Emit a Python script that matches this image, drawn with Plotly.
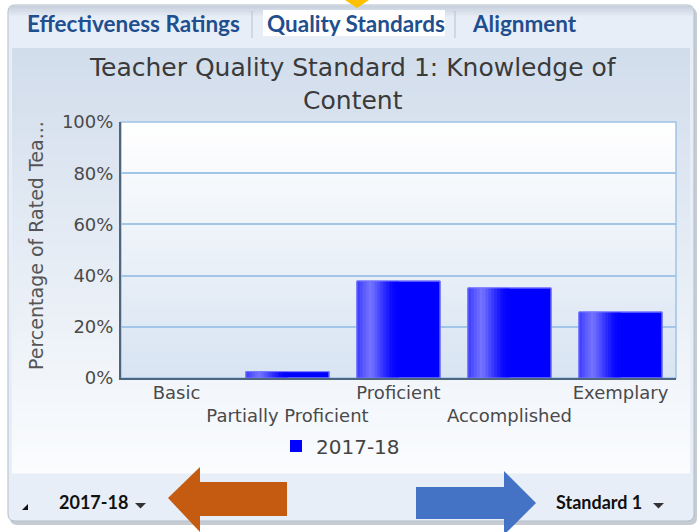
import plotly.graph_objects as go

# ---------------- data ----------------
categories = ["Basic", "Partially Proficient", "Proficient", "Accomplished", "Exemplary"]
values = [0.0, 2.5, 37.9, 35.2, 25.8]
series_name = "2017-18"
y_ticks = [0, 20, 40, 60, 80, 100]
y_tick_labels = ["0%", "20%", "40%", "60%", "80%", "100%"]
title_text = "Teacher Quality Standard 1: Knowledge of<br>Content"
y_title = "Percentage of Rated Tea..."
tabs = ["Effectiveness Ratings", "Quality Standards", "Alignment"]
year_selector = "2017-18"
standard_selector = "Standard 1"

# ---------------- geometry helpers ----------------
W, H = 700, 532
L, R, T, B = 121, 676, 122, 378


def px(x):
    return (x - L) / (R - L)


def py(y):
    return (B - y) / (B - T)


def hex2rgb(h):
    h = h.lstrip("#")
    return tuple(int(h[i:i + 2], 16) for i in (0, 2, 4))


def mix(c1, c2, t):
    a, b = hex2rgb(c1), hex2rgb(c2)
    return "rgb(%d,%d,%d)" % tuple(round(a[i] + (b[i] - a[i]) * t) for i in range(3))


shapes = []


def rect(x0, y0, x1, y1, fill, line=None, lw=0, layer="below"):
    shapes.append(dict(type="rect", xref="paper", yref="paper",
                       x0=px(x0), x1=px(x1), y0=py(y0), y1=py(y1),
                       fillcolor=fill, line=dict(color=line or "rgba(0,0,0,0)", width=lw),
                       layer=layer))


def vgrad(x0, y0, x1, y1, c_top, c_bot, n=40):
    step = (y1 - y0) / n
    for i in range(n):
        t = i / (n - 1)
        rect(x0, y0 + i * step, x1, y0 + (i + 1) * step + 0.6, mix(c_top, c_bot, t))


def poly(points, fill, layer="above"):
    d = "M" + " L".join("%f,%f" % (px(x), py(y)) for x, y in points) + " Z"
    shapes.append(dict(type="path", xref="paper", yref="paper", path=d,
                       fillcolor=fill, line=dict(width=0), layer=layer))


def rounded(x0, y0, x1, y1, r, fill, line, lw):
    pts = [
        "M%f,%f" % (px(x0 + r), py(y0)),
        "L%f,%f" % (px(x1 - r), py(y0)),
        "Q%f,%f %f,%f" % (px(x1), py(y0), px(x1), py(y0 + r)),
        "L%f,%f" % (px(x1), py(y1 - r)),
        "Q%f,%f %f,%f" % (px(x1), py(y1), px(x1 - r), py(y1)),
        "L%f,%f" % (px(x0 + r), py(y1)),
        "Q%f,%f %f,%f" % (px(x0), py(y1), px(x0), py(y1 - r)),
        "L%f,%f" % (px(x0), py(y0 + r)),
        "Q%f,%f %f,%f" % (px(x0), py(y0), px(x0 + r), py(y0)),
        "Z",
    ]
    shapes.append(dict(type="path", xref="paper", yref="paper", path=" ".join(pts),
                       fillcolor=fill, line=dict(color=line, width=lw), layer="below"))


# ---------------- widget chrome ----------------
rounded(10, 8, 697, 525, 7, "#c7ccd3", "rgba(0,0,0,0)", 0)          # shadow
rounded(8, 5, 694, 521, 7, "#e8eef7", "#b3bdca", 1)                 # frame
vgrad(9, 6, 693, 18, "#c9d2de", "#e8eef7", n=8)                      # top edge shade
rect(263, 10, 445, 36, "#ffffff")                                    # active tab
rect(251.5, 11, 252.5, 38, "#b9c0c9")
rect(454.5, 11, 455.5, 38, "#b9c0c9")
vgrad(12, 48, 690, 473, "#d2ddec", "#fafcfe", n=60)                 # chart panel
vgrad(L, T, R, B, "#ffffff", "#d8e4f2", n=50)                        # plot area
shapes.append(dict(type="rect", xref="paper", yref="paper", x0=0, x1=1, y0=0, y1=1,
                   line=dict(color="#9fc3e6", width=1.5), layer="below"))

# arrows
poly([(168, 498), (200, 467), (200, 482), (287, 482), (287, 516), (200, 516), (200, 532)], "#c55a11")
poly([(416, 487), (504, 487), (504, 471), (536, 503), (504, 535), (504, 519), (416, 519)], "#4472c4")
poly([(345, 0), (369, 0), (357, 8)], "#ffc000")
# dropdown triangles and resize grip
poly([(135, 503), (146, 503), (140.5, 508.5)], "#333333")
poly([(653, 503), (664, 503), (658.5, 508.5)], "#333333")
poly([(22, 510), (28, 510), (28, 504)], "#111111")

# ---------------- bars ----------------
bar_w = 0.75
line_w = [0 if v == 0 else 1 for v in values]
fig = go.Figure()
fig.add_trace(go.Bar(x=categories, y=values, name=series_name, width=bar_w,
                     marker=dict(color="#0000ff", line=dict(color="#7a7aff", width=line_w)),
                     showlegend=True, hoverinfo="x+y"))
# shading stripes for the cylinder-like gradient
stops = [(0.0, "#3a3aff"), (0.08, "#5a5aff"), (0.17, "#7676ff"), (0.28, "#4444ff"),
         (0.42, "#0a0aff"), (0.5, "#0000ff")]
n_str = 14
for i in range(n_str):
    a = 0.5 * i / n_str
    b = 0.5 * (i + 1) / n_str
    m = (a + b) / 2
    for j in range(len(stops) - 1):
        if stops[j][0] <= m <= stops[j + 1][0]:
            t = (m - stops[j][0]) / (stops[j + 1][0] - stops[j][0])
            col = mix(stops[j][1], stops[j + 1][1], t)
            break
    fig.add_trace(go.Bar(x=categories, y=values, width=bar_w * (b - a) + 0.002,
                         offset=-bar_w / 2 + bar_w * a, marker=dict(color=col, line=dict(width=0)),
                         showlegend=False, hoverinfo="skip"))
fig.add_trace(go.Bar(x=categories, y=values, width=bar_w,
                     marker=dict(color="rgba(0,0,0,0)", line=dict(color="#7a7aff", width=line_w)),
                     showlegend=False, hoverinfo="skip"))

tick_text = [c if i % 2 == 0 else "<br>" + c for i, c in enumerate(categories)]

annotations = [
    dict(text=title_text, x=px(353), y=py(84), xref="paper", yref="paper",
         showarrow=False, xanchor="center", yanchor="middle",
         font=dict(family="DejaVu Sans", size=25, color="#3a3a3a")),
    dict(text=y_title, x=px(36), y=py(246), xref="paper", yref="paper", textangle=-90,
         showarrow=False, xanchor="center", yanchor="middle",
         font=dict(family="DejaVu Sans", size=19, color="#555555")),
]
tab_x = [25, 265, 470]
for tx, tt in zip(tab_x, tabs):
    annotations.append(dict(text="<b>%s</b>" % tt, x=px(tx), y=py(23), xref="paper", yref="paper",
                            showarrow=False, xanchor="left", yanchor="middle",
                            font=dict(family="Lato, Liberation Sans", size=22.5, color="#1f4f8f")))
annotations.append(dict(text="<b>%s</b>" % year_selector, x=px(57), y=py(502), xref="paper", yref="paper",
                        showarrow=False, xanchor="left", yanchor="middle",
                        font=dict(family="Lato, Liberation Sans", size=18, color="#111111")))
annotations.append(dict(text="<b>%s</b>" % standard_selector, x=px(644), y=py(502), xref="paper", yref="paper",
                        showarrow=False, xanchor="right", yanchor="middle",
                        font=dict(family="Lato, Liberation Sans", size=18, color="#111111")))

fig.update_layout(
    width=W, height=H,
    margin=dict(l=L, r=W - R, t=T, b=H - B, pad=0, autoexpand=False),
    paper_bgcolor="#ffffff", plot_bgcolor="rgba(0,0,0,0)",
    barmode="overlay", bargap=0.25,
    showlegend=True,
    legend=dict(orientation="h", x=px(276), xanchor="left", y=py(446), yanchor="middle",
                font=dict(family="DejaVu Sans", size=20, color="#444444"),
                bgcolor="rgba(0,0,0,0)"),
    shapes=shapes, annotations=annotations,
    xaxis=dict(showgrid=False, showline=True, linecolor="#4d6680", linewidth=2,
               tickmode="array", tickvals=categories, ticktext=tick_text, tickangle=0,
               tickfont=dict(family="DejaVu Sans", size=18, color="#4a4a4a"),
               ticks="", ticklabelstandoff=-3, fixedrange=True, automargin=False),
    yaxis=dict(range=[0, 100], tickvals=y_ticks, ticktext=y_tick_labels,
               showgrid=True, gridcolor="#a3c6e8", gridwidth=1.5,
               showline=True, linecolor="#4d6680", linewidth=2, zeroline=False,
               tickfont=dict(family="DejaVu Sans", size=18, color="#4a4a4a"),
               ticks="", ticklabelstandoff=2, fixedrange=True, automargin=False),
    font=dict(family="DejaVu Sans"),
)

fig.write_html("out.html", config={"displayModeBar": False},
               post_script="document.body.style.margin='0';")
